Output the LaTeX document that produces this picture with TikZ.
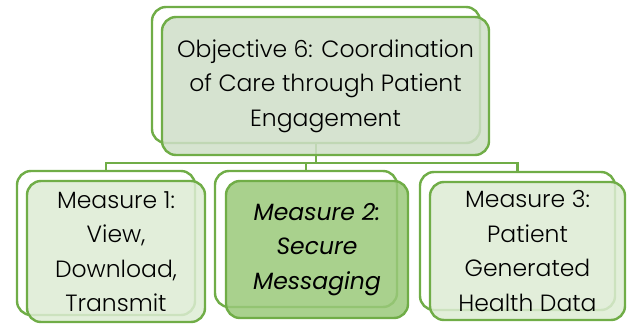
\documentclass[tikz,border=0pt]{standalone}
\usepackage{fontspec}
\setmainfont{Poppins Light}[ItalicFont={Poppins Light Italic}]
\newfontfamily\plainfont{Poppins}[ItalicFont={Poppins Italic}]
\definecolor{leaf}{HTML}{70AD47}
\definecolor{topfill}{HTML}{CFDFC8}
\definecolor{palefill}{HTML}{DDECD4}
\definecolor{darkfill}{HTML}{9AC97A}

\begin{document}
\begin{tikzpicture}[x=1pt,y=-1pt,
        backbox/.style={draw=leaf,line width=2.4pt,fill=white,rounded corners=14pt,inner sep=0pt},
        frontbox/.style={draw=leaf,line width=2.4pt,fill opacity=0.85,text opacity=1,rounded corners=14pt,
            align=center,inner sep=0pt,font=\fontsize{23.5}{34.5}\selectfont}]
        \useasboundingbox (0,0) rectangle (629,324);
        % back boxes
        \node[backbox,minimum width=328pt,minimum height=136pt] at (316,75) (obj_back) {};
        \node[backbox,minimum width=178pt,minimum height=144pt] at (106,243) (m1_back) {};
        \node[backbox,minimum width=182pt,minimum height=136pt] at (306,239) (m2_back) {};
        \node[backbox,minimum width=195pt,minimum height=138pt] at (517.5,241) (m3_back) {};
        % tree lines
        \coordinate (bus) at (0,163);
        \draw[leaf,line width=2.2pt] (obj_back.south) -- (obj_back.south |- bus);
        \draw[leaf,line width=2.2pt] (m1_back.north) -- (m1_back.north |- bus) -- (m3_back.north |- bus) -- (m3_back.north);
        \draw[leaf,line width=2.2pt] (m2_back.north) -- (m2_back.north |- bus);
        % front boxes
        \node[frontbox,fill=topfill,minimum width=327pt,minimum height=138pt] at (325.5,86) (obj)
            {Objective 6: Coordination\\of Care through Patient\\Engagement};
        \node[frontbox,fill=palefill,minimum width=178pt,minimum height=141pt] at (116,251.5) (m1)
            {Measure 1:\\View,\\Download,\\Transmit};
        \node[frontbox,fill=darkfill,minimum width=182pt,minimum height=137pt,
            font=\fontsize{23.5}{34.5}\plainfont\itshape] at (317,249.5) (m2)
            {Measure 2:\\Secure\\Messaging};
        \node[frontbox,fill=palefill,minimum width=195pt,minimum height=138pt] at (527.5,251) (m3)
            {Measure 3:\\Patient\\Generated\\Health Data};
    \end{tikzpicture}
\end{document}
